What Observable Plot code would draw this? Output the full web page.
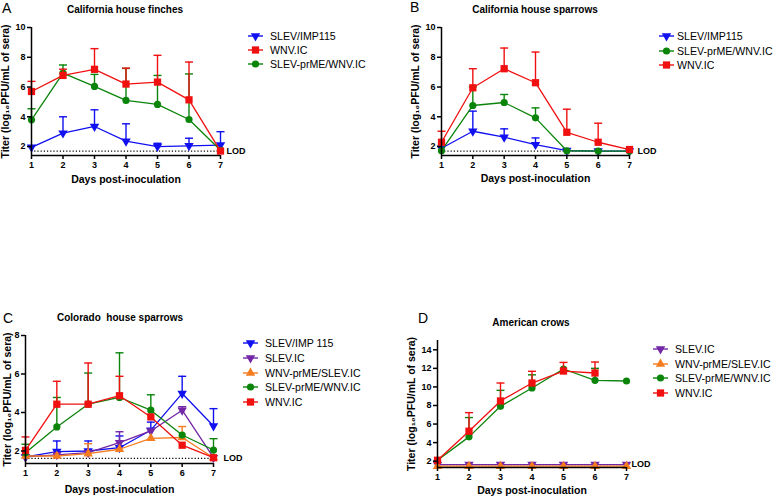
<!DOCTYPE html>
<html><head><meta charset="utf-8">
<script src="https://cdn.jsdelivr.net/npm/d3@7"></script>
<script src="https://cdn.jsdelivr.net/npm/@observablehq/plot@0.6"></script>
<style>
body{margin:0;background:#fff;}
#root{position:relative;width:776px;height:497px;overflow:hidden;font-family:Arial,"Liberation Sans",sans-serif;color:#000;}
.title{position:absolute;font-weight:bold;font-size:10px;white-space:pre;transform:translate(-50%,-50%);}
.letter{position:absolute;font-size:14px;line-height:16px;}
.lrow{position:absolute;height:14px;display:flex;align-items:center;font-size:10.6px;white-space:nowrap;}
.plotbox{position:absolute;}
</style></head><body><div id="root"></div>
<script>
// ---------- data ----------
const days = [1, 2, 3, 4, 5, 6, 7];
const yLabel = "Titer (log\u2081\u2080PFU/mL of sera)";
const xLabel = "Days post-inoculation";
const lodText = "LOD";

// Panel A: California house finches
const A_title = "California house finches";
const A_yTicks = [2, 4, 6, 8, 10];
const A_lod = 1.7;
const A_names = ["SLEV/IMP115", "WNV.IC", "SLEV-prME/WNV.IC"];
const A_slevImp115 = [1.95, 2.9, 3.35, 2.36, 2.0, 2.05, 2.1];
const A_slevImp115Err = [null, 4.0, 4.47, 3.53, 2.22, 2.56, 3.0];
const A_wnvIC = [5.7, 6.78, 7.19, 6.2, 6.33, 5.14, 1.7];
const A_wnvICErr = [6.38, 7.2, 8.58, 7.27, 8.13, 7.68, null];
const A_slevPrME = [3.8, 6.94, 6.04, 5.1, 4.83, 3.82, 1.75];
const A_slevPrMEErr = [4.54, 7.48, 6.85, 7.25, 6.78, 6.88, null];

// Panel B: California house sparrows
const B_title = "California house sparrows";
const B_yTicks = [2, 4, 6, 8, 10];
const B_lod = 1.7;
const B_names = ["SLEV/IMP115", "SLEV-prME/WNV.IC", "WNV.IC"];
const B_slevImp115 = [1.89, 3.03, 2.63, 2.13, 1.73, 1.7, 1.7];
const B_slevImp115Err = [null, 4.38, 3.19, 2.58, null, null, null];
const B_slevPrME = [1.72, 4.76, 4.96, 3.93, 1.72, 1.7, 1.7];
const B_slevPrMEErr = [null, 6.0, 5.5, 4.6, null, null, null];
const B_wnvIC = [2.29, 5.95, 7.23, 6.29, 2.96, 2.29, 1.8];
const B_wnvICErr = [3.03, 7.23, 8.62, 8.35, 4.51, 3.57, null];

// Panel C: Colorado house sparrows
const C_title = "Colorado  house sparrows";
const C_yTicks = [2, 4, 6, 8];
const C_lod = 1.62;
const C_names = ["SLEV/IMP 115", "SLEV.IC", "WNV-prME/SLEV.IC", "SLEV-prME/WNV.IC", "WNV.IC"];
const C_slevImp115 = [1.69, 1.97, 2.0, 2.17, 3.08, 4.99, 3.3];
const C_slevImp115Err = [null, 2.52, 2.52, 2.78, 3.5, 5.88, 4.2];
const C_slevIC = [1.69, 1.8, 1.91, 2.43, 3.04, 4.12, 1.65];
const C_slevICErr = [null, null, null, 3.0, null, 4.3, null];
const C_wnvPrME = [1.74, 1.74, 1.86, 2.09, 2.66, 2.7, 1.65];
const C_wnvPrMEErr = [null, null, 2.38, null, null, 3.27, null];
const C_slevPrME = [1.91, 3.25, 4.43, 4.78, 4.12, 2.83, 2.05];
const C_slevPrMEErr = [2.35, 4.78, 6.05, 7.1, 4.92, null, 2.64];
const C_wnvIC = [2.03, 4.43, 4.43, 4.87, 3.77, 2.3, 1.65];
const C_wnvICErr = [2.73, 5.62, 6.57, 5.88, null, null, null];

// Panel D: American crows
const D_title = "American crows";
const D_yTicks = [2, 4, 6, 8, 10, 12, 14];
const D_lod = 1.64;
const D_names = ["SLEV.IC", "WNV-prME/SLEV.IC", "SLEV-prME/WNV.IC", "WNV.IC"];
const D_slevIC = [1.64, 1.64, 1.64, 1.64, 1.64, 1.64, 1.64];
const D_wnvPrME = [1.46, 1.46, 1.46, 1.46, 1.46, 1.46, 1.46];
const D_slevPrME = [2.1, 4.62, 7.91, 9.89, 11.93, 10.71, 10.64];
const D_slevPrMEErr = [null, 6.7, 9.63, 11.3, null, 12.0, null];
const D_wnvIC = [2.1, 5.23, 8.49, 10.42, 11.71, 11.5, null];
const D_wnvICErr = [null, 7.23, 10.42, 11.68, 12.64, 12.68, null];

// ---------- styles ----------
const sq3 = Math.sqrt(3);
const triDown = {draw(ctx, size) {
  const y = -Math.sqrt(size / (sq3 * 3));
  ctx.moveTo(0, -y * 2); ctx.lineTo(-sq3 * y, y); ctx.lineTo(sq3 * y, y); ctx.closePath();
}};
const capSym = {draw(ctx, size) {
  const w = Math.sqrt(size / Math.PI);
  ctx.moveTo(-w, 0); ctx.lineTo(w, 0);
}};
const ST = {
  blue:   {color: "#1010f0", symbol: triDown, r: 3.5},
  red:    {color: "#f01010", symbol: d3.symbolSquare, r: 4.1},
  green:  {color: "#0a850a", symbol: d3.symbolCircle, r: 3.6},
  purple: {color: "#7326a6", symbol: triDown, r: 3.5},
  orange: {color: "#f57c1f", symbol: d3.symbolTriangle, r: 3.5}
};
const font = "Arial, 'Liberation Sans', sans-serif";

const root = document.getElementById("root");

function rows(vals, errs) {
  return days.map((d, i) => ({day: d, value: vals[i], err: errs ? errs[i] : null}))
    .filter(r => r.value != null);
}

function seriesMarks(s) {
  const data = rows(s.vals, s.errs);
  const withErr = data.filter(r => r.err != null);
  const st = ST[s.style];
  return [
    Plot.ruleX(withErr, {x: "day", y1: "value", y2: "err", stroke: st.color, strokeWidth: 1.4}),
    Plot.dot(withErr, {x: "day", y: "err", symbol: capSym, r: 4, fill: "none", stroke: st.color, strokeWidth: 1.4}),
    Plot.line(data, {x: "day", y: "value", stroke: st.color, strokeWidth: 1.3}),
    Plot.dot(data, {x: "day", y: "value", symbol: st.symbol, r: st.r, fill: st.color, stroke: "none"})
  ];
}

function panel(p) {
  const box = document.createElement("div");
  box.className = "plotbox";
  box.style.left = p.left + "px"; box.style.top = p.top + "px";
  const chart = Plot.plot({
    width: p.width, height: p.height,
    marginLeft: p.ml, marginRight: p.mr, marginTop: p.mt, marginBottom: p.mb,
    style: {background: "transparent", fontFamily: font, fontSize: "9px", fontWeight: "bold", overflow: "visible"},
    x: {domain: [days[0], days[days.length - 1]]},
    y: {domain: p.yDomain},
    marks: [
      Plot.ruleY([p.lod], {x1: days[0], x2: days[days.length - 1], stroke: "#000", strokeWidth: 1.2, strokeDasharray: "1.2,2"}),
      ...p.series.flatMap(seriesMarks),
      Plot.ruleX([days[0]], {stroke: "#000", strokeWidth: 1.5}),
      Plot.ruleY([p.yDomain[0]], {stroke: "#000", strokeWidth: 1.5}),
      Plot.axisX({ticks: days, tickFormat: d => String(d), tickSize: 4, tickPadding: 2, strokeWidth: 1.5, label: null}),
      Plot.axisY({ticks: p.yTicks, tickFormat: d => String(d), tickSize: 4, tickPadding: 2, strokeWidth: 1.5, label: null}),
      Plot.text([xLabel], {frameAnchor: "bottom", lineAnchor: "top", dy: p.xdy, fontSize: 10.5, fontWeight: "bold"}),
      Plot.text([yLabel], {frameAnchor: "left", rotate: -90, lineAnchor: "top", textAnchor: "middle", dx: p.ydx, fontSize: 10.5, fontWeight: "bold"}),
      Plot.text([p.lod], {x: days[days.length - 1], y: d => d, text: () => lodText, dx: p.lodDx, textAnchor: "start", fontSize: 9, fontWeight: "bold"})
    ]
  });
  box.appendChild(chart);
  root.appendChild(box);

  const t = document.createElement("div");
  t.className = "title"; t.textContent = p.title;
  t.style.left = p.titleX + "px"; t.style.top = p.titleY + "px";
  root.appendChild(t);

  const l = document.createElement("div");
  l.className = "letter"; l.textContent = p.id;
  l.style.left = p.letterX + "px"; l.style.top = p.letterY + "px";
  root.appendChild(l);

  // legend (in legend order)
  p.legend.forEach((s, i) => {
    const st = ST[s.style];
    const row = document.createElement("div");
    row.className = "lrow";
    row.style.left = p.legX + "px";
    row.style.top = (p.legY + i * p.legStep - 7) + "px";
    const w = p.legTextX - p.legX;
    const size = Math.PI * st.r * st.r;
    const path = d3.symbol(st.symbol, size)();
    row.innerHTML = `<svg width="${w}" height="14" style="display:block"><line x1="0" x2="15" y1="7" y2="7" stroke="${st.color}" stroke-width="1.4"/><path d="${path}" transform="translate(7.5,7)" fill="${st.color}"/></svg><span>${s.name}</span>`;
    root.appendChild(row);
  });
}

const A_series = [
  {name: A_names[0], vals: A_slevImp115, errs: A_slevImp115Err, style: "blue"},
  {name: A_names[1], vals: A_wnvIC, errs: A_wnvICErr, style: "red"},
  {name: A_names[2], vals: A_slevPrME, errs: A_slevPrMEErr, style: "green"}
];
const B_series = [
  {name: B_names[0], vals: B_slevImp115, errs: B_slevImp115Err, style: "blue"},
  {name: B_names[1], vals: B_slevPrME, errs: B_slevPrMEErr, style: "green"},
  {name: B_names[2], vals: B_wnvIC, errs: B_wnvICErr, style: "red"}
];
const C_series = [
  {name: C_names[0], vals: C_slevImp115, errs: C_slevImp115Err, style: "blue"},
  {name: C_names[1], vals: C_slevIC, errs: C_slevICErr, style: "purple"},
  {name: C_names[2], vals: C_wnvPrME, errs: C_wnvPrMEErr, style: "orange"},
  {name: C_names[3], vals: C_slevPrME, errs: C_slevPrMEErr, style: "green"},
  {name: C_names[4], vals: C_wnvIC, errs: C_wnvICErr, style: "red"}
];
const D_series = [
  {name: D_names[0], vals: D_slevIC, errs: null, style: "purple"},
  {name: D_names[1], vals: D_wnvPrME, errs: null, style: "orange"},
  {name: D_names[2], vals: D_slevPrME, errs: D_slevPrMEErr, style: "green"},
  {name: D_names[3], vals: D_wnvIC, errs: D_wnvICErr, style: "red"}
];

panel({id: "A", title: A_title, left: 0, top: 0, width: 250, height: 190, ml: 31, mr: 30, mt: 27, mb: 35,
  yDomain: [1.4, 10], yTicks: A_yTicks, lod: A_lod, lodDx: 6, xdy: 20, ydx: -30,
  series: [A_series[0], A_series[2], A_series[1]], legend: A_series,
  titleX: 125, titleY: 9, letterX: 2, letterY: 0,
  legX: 248, legTextX: 270, legY: 36, legStep: 14.2});
panel({id: "B", title: B_title, left: 390, top: 0, width: 269, height: 190, ml: 51, mr: 30, mt: 27, mb: 35,
  yDomain: [1.4, 10], yTicks: B_yTicks, lod: B_lod, lodDx: 8, xdy: 19, ydx: -30,
  series: B_series, legend: B_series,
  titleX: 535, titleY: 9, letterX: 410, letterY: -1,
  legX: 659, legTextX: 677, legY: 36, legStep: 14.7});
panel({id: "C", title: C_title, left: 0, top: 300, width: 250, height: 197, ml: 25, mr: 37, mt: 35, mb: 34,
  yDomain: [1.35, 8], yTicks: C_yTicks, lod: C_lod, lodDx: 10, xdy: 22, ydx: -22,
  series: C_series, legend: C_series,
  titleX: 120, titleY: 317, letterX: 3, letterY: 310,
  legX: 243, legTextX: 265, legY: 343.3, legStep: 14.6});
panel({id: "D", title: D_title, left: 390, top: 300, width: 270, height: 197, ml: 47, mr: 34, mt: 40, mb: 30,
  yDomain: [1.32, 15.0], yTicks: D_yTicks, lod: D_lod, lodDx: 5, xdy: 19, ydx: -30,
  series: D_series, legend: D_series,
  titleX: 531, titleY: 322, letterX: 418, letterY: 310,
  legX: 653, legTextX: 675, legY: 349, legStep: 14.6});
</script>
</body></html>
